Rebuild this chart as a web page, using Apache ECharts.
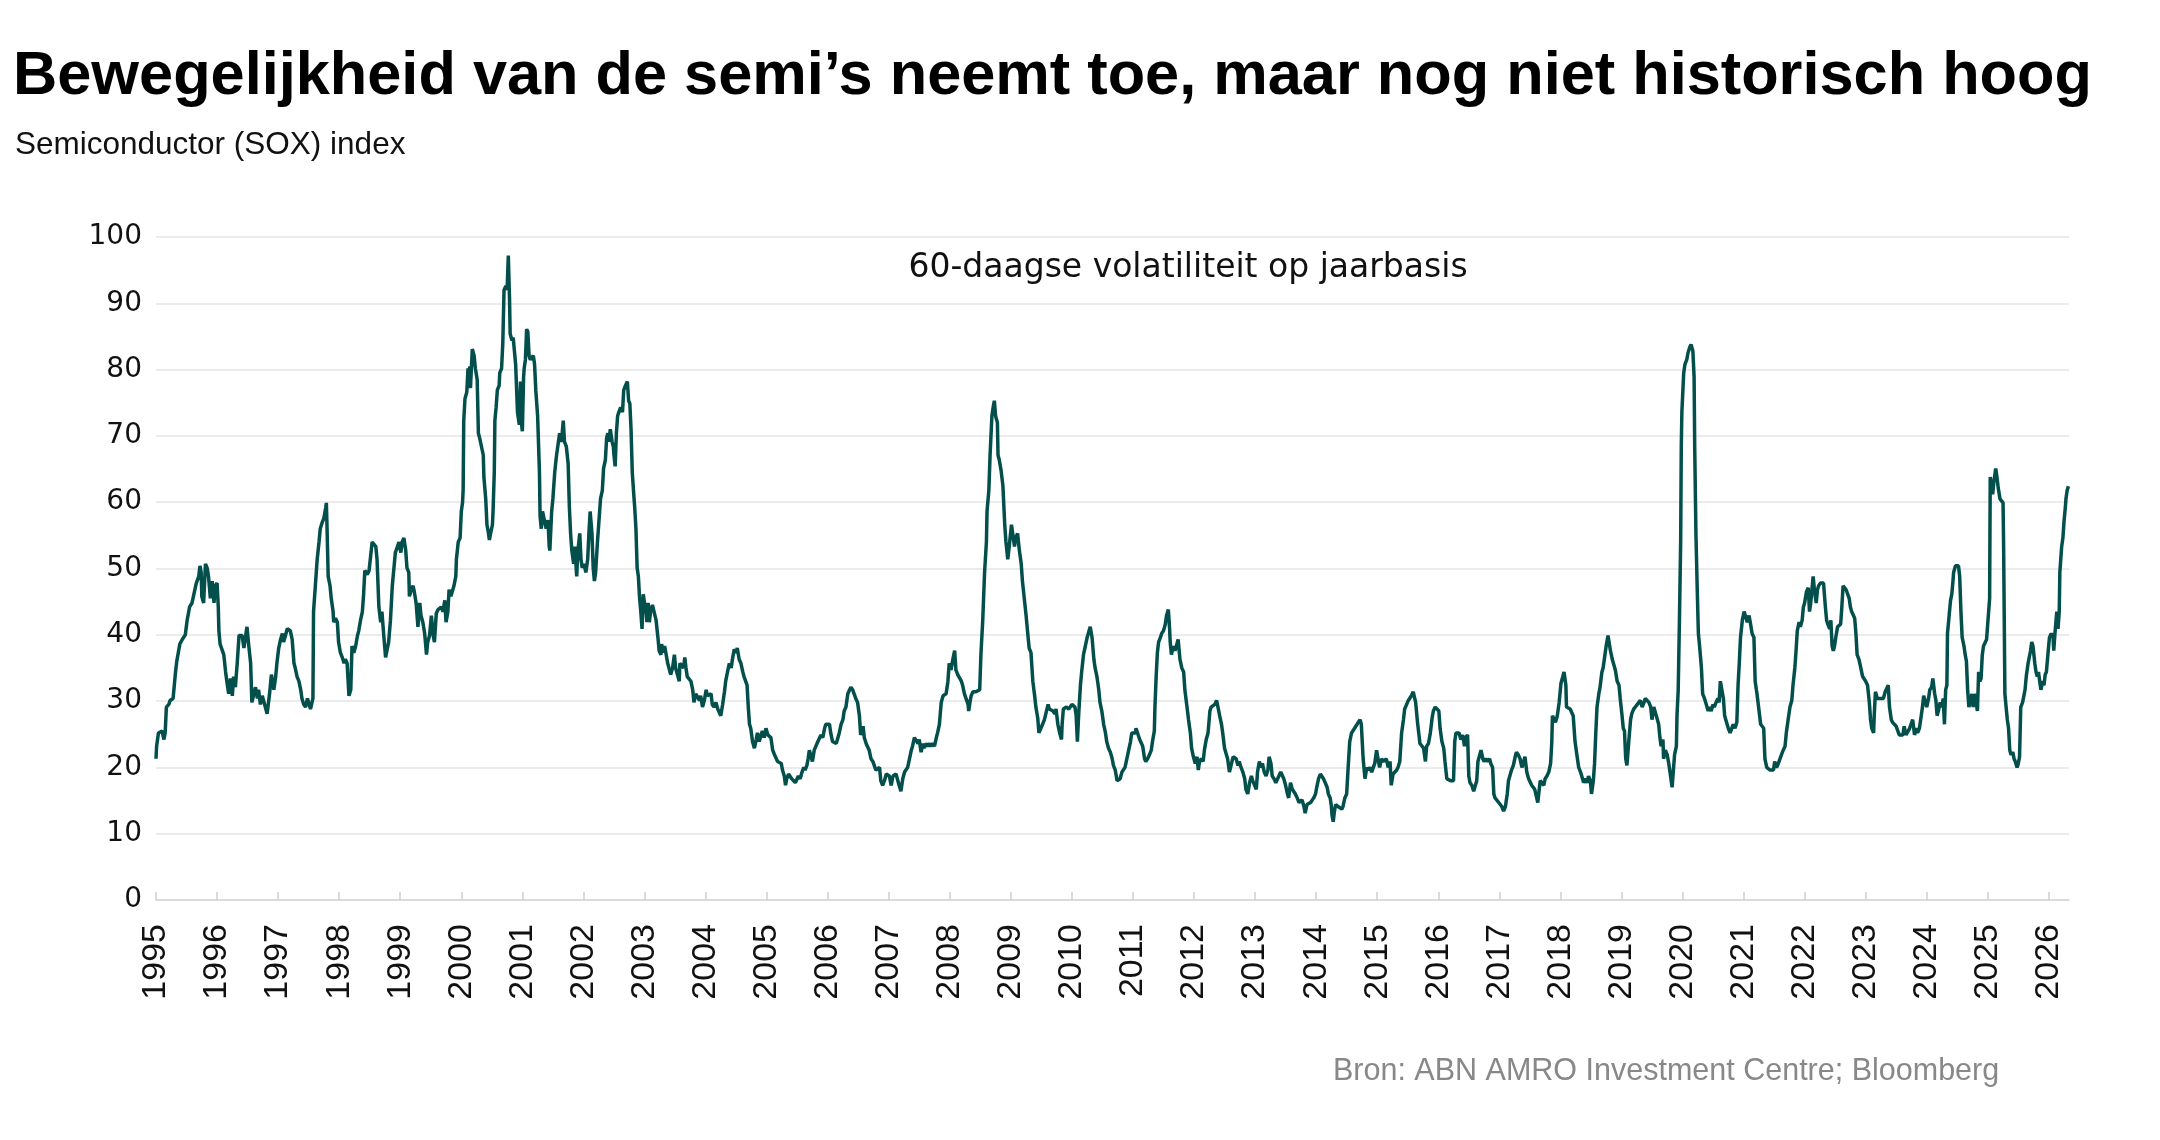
<!DOCTYPE html>
<html>
<head>
<meta charset="utf-8">
<script src="https://cdn.jsdelivr.net/npm/echarts@6/dist/echarts.min.js"></script>
<style>
html,body{margin:0;padding:0;background:#fff;}
#chart{width:2160px;height:1140px;}
</style>
</head>
<body>
<div id="chart"></div>
<script>
// Tick labels (years on the x axis)
const years = [1995,1996,1997,1998,1999,2000,2001,2002,2003,2004,2005,2006,2007,2008,2009,2010,2011,2012,2013,2014,2015,2016,2017,2018,2019,2020,2021,2022,2023,2024,2025,2026];

// 60-day annualised volatility, [decimal year, value]
const vol1995 = [[1995.00,21.3],[1995.01,23.2],[1995.04,25.2],[1995.10,25.5],[1995.13,24.2],[1995.15,25.2],[1995.17,29.1],[1995.21,29.5],[1995.23,30.1],[1995.28,30.4],[1995.30,32.4],[1995.32,34.4],[1995.34,36],[1995.37,36.3],[1995.39,38.6],[1995.43,39.3],[1995.45,39.6],[1995.48,40],[1995.51,42.2],[1995.55,44.2],[1995.59,44.8],[1995.62,46.1],[1995.66,47.8],[1995.70,48.8],[1995.72,50.4],[1995.74,49.4],[1995.75,45.8],[1995.78,44.8],[1995.81,50.7],[1995.84,50],[1995.86,48.8],[1995.89,45.5],[1995.92,48.1],[1995.95,44.8],[1995.97,47.4],[1996.00,47.8],[1996.02,44.2],[1996.03,40.6],[1996.05,38.6],[1996.08,38.3],[1996.11,37],[1996.14,34.4],[1996.16,33],[1996.19,31.1],[1996.22,33.4],[1996.25,30.8],[1996.27,33.7],[1996.30,32.1],[1996.33,35.7],[1996.36,39.9],[1996.38,39.6],[1996.41,39.9],[1996.44,38],[1996.46,39.3],[1996.49,41.2],[1996.52,38.3],[1996.55,35.7],[1996.57,29.8],[1996.60,29.5],[1996.63,32.1],[1996.66,30.4],[1996.68,31.7],[1996.71,29.5],[1996.74,30.8],[1996.77,29.8],[1996.79,29.1],[1996.82,28.1],[1996.85,27.8],[1996.86,31.1],[1996.89,34],[1996.93,31.7],[1996.96,33.7],[1996.98,35.7],[1997.01,38],[1997.04,39.3],[1997.07,40.2],[1997.09,38.9],[1997.12,39.9],[1997.15,40.9],[1997.17,41.2],[1997.20,40.6],[1997.23,39.3],[1997.26,35.7],[1997.28,35],[1997.31,33.7],[1997.34,33],[1997.37,31.7],[1997.39,30.4],[1997.42,29.5],[1997.45,29.1],[1997.48,30.4],[1997.50,29.8],[1997.53,28.8],[1997.56,28.5],[1997.57,30.4],[1997.58,43.5],[1997.61,47.4],[1997.64,51.4],[1997.67,54],[1997.69,56],[1997.72,56.9],[1997.75,57.6],[1997.78,59.2],[1997.79,59.9],[1997.80,56.6],[1997.82,48.8],[1997.85,47.4],[1997.87,45.5],[1997.90,43.5],[1997.91,41.9],[1997.94,42.5],[1997.97,41.9],[1997.99,38.9],[1998.02,37.3],[1998.05,36.6],[1998.08,35.7],[1998.10,36.3],[1998.13,35.7],[1998.16,30.8],[1998.19,31.7],[1998.21,38.3],[1998.24,37.3],[1998.27,38.3],[1998.30,39.9],[1998.32,40.6],[1998.35,42.2],[1998.38,43.5],[1998.40,46.1],[1998.42,49.7],[1998.46,49.1],[1998.49,49.7],[1998.51,49.4],[1998.54,54],[1998.57,54],[1998.60,53.3],[1998.62,51.4],[1998.65,44.2],[1998.68,41.9],[1998.70,43.5],[1998.73,39.9],[1998.76,36.6],[1998.79,36.3],[1998.81,38.9],[1998.84,42.2],[1998.87,47.4],[1998.90,50.4],[1998.92,52.4],[1998.95,52.7],[1998.98,54]];

const vol1999 = [[1999.01,52.4],[1999.03,54],[1999.06,54.6],[1999.09,52.7],[1999.11,50.1],[1999.14,49.4],[1999.15,45.8],[1999.18,46.8],[1999.21,47.4],[1999.23,46.5],[1999.26,44.8],[1999.29,41.2],[1999.32,44.8],[1999.34,42.9],[1999.37,41.9],[1999.40,40.2],[1999.43,37],[1999.45,38.9],[1999.48,39.9],[1999.51,42.9],[1999.54,39.9],[1999.56,38.9],[1999.59,43.2],[1999.62,43.8],[1999.64,43.5],[1999.67,44.2],[1999.70,43.5],[1999.73,45.2],[1999.75,41.9],[1999.78,43.5],[1999.80,46.8],[1999.83,45.8],[1999.85,46.1],[1999.88,47.4],[1999.91,48.8],[1999.92,51.4],[1999.95,54],[1999.98,54.6],[2000.00,58.6],[2000.02,59.9],[2000.03,61.8],[2000.04,72.3],[2000.06,75.6],[2000.09,76.6],[2000.11,80.2],[2000.13,78.9],[2000.14,80.5],[2000.15,77.2],[2000.18,83.1],[2000.21,82.1],[2000.23,80.2],[2000.26,78.5],[2000.28,70.4],[2000.30,69.7],[2000.33,68.4],[2000.36,67.1],[2000.37,63.8],[2000.40,60.5],[2000.42,56.6],[2000.44,55.6],[2000.46,54.3],[2000.48,55.3],[2000.51,56.6],[2000.52,58.6],[2000.54,64.5],[2000.55,72.3],[2000.57,74.3],[2000.59,76.9],[2000.62,77.6],[2000.63,79.5],[2000.66,80.2],[2000.68,84.1],[2000.70,92],[2000.73,92.6],[2000.75,92],[2000.77,97.2],[2000.79,90.6],[2000.80,85.4],[2000.83,84.4],[2000.85,84.8],[2000.87,82.8],[2000.89,80.8],[2000.91,80.8],[2000.92,73.6],[2000.95,71.7],[2000.97,78.2],[2000.98,72.3],[2001.00,70.7],[2001.02,78.9],[2001.03,80.2],[2001.05,81.5],[2001.07,86.1],[2001.09,85.7],[2001.11,82.1],[2001.13,81.5],[2001.15,81.5],[2001.18,82.1],[2001.20,80.8],[2001.22,76.9],[2001.25,73],[2001.28,64.5],[2001.29,57.9],[2001.31,56],[2001.33,58.6],[2001.36,57.3],[2001.39,56],[2001.42,57.3],[2001.44,53.3],[2001.45,52.7],[2001.48,58.6],[2001.50,60.5],[2001.53,64.5],[2001.56,67.1],[2001.58,68.4],[2001.61,70.4],[2001.64,69.1],[2001.67,72.3],[2001.69,69.1],[2001.72,68.4],[2001.75,65.8],[2001.77,59.2],[2001.79,55.3],[2001.81,52.7],[2001.84,50.7],[2001.86,53.3],[2001.89,48.8],[2001.91,52.7],[2001.94,55.3],[2001.96,51.4],[2001.98,50.1],[2002.01,50.7],[2002.04,49.4],[2002.07,51.4],[2002.09,55.3],[2002.11,58.6],[2002.14,55.3],[2002.16,50.1],[2002.18,48.1],[2002.20,49.4],[2002.23,54],[2002.26,57.9],[2002.28,60.5],[2002.31,61.8],[2002.33,65.1],[2002.36,66.4],[2002.38,69.7],[2002.40,70.4],[2002.42,69.1],[2002.44,71],[2002.47,69.1],[2002.49,68.4],[2002.50,67.1],[2002.52,65.4],[2002.54,70.4],[2002.56,73],[2002.58,73.6],[2002.61,74.3],[2002.64,73.6],[2002.66,76.9],[2002.69,77.6],[2002.72,78.2],[2002.74,75.3],[2002.76,74.9],[2002.78,71],[2002.80,64.5],[2002.82,61.8],[2002.84,59.2],[2002.86,56],[2002.88,50.1],[2002.90,48.8],[2002.92,45.5],[2002.94,43.5],[2002.96,40.9],[2002.98,46.1],[2003.00,44.8],[2003.02,44.2]];

const vol2003 = [[2003.04,41.9],[2003.06,44.8],[2003.08,41.9],[2003.10,43.5],[2003.13,44.5],[2003.16,44.2],[2003.19,42.2],[2003.22,39.6],[2003.24,37.6],[2003.27,37],[2003.28,38.6],[2003.31,37.3],[2003.33,38.3],[2003.35,37.3],[2003.38,35.7],[2003.40,35.7],[2003.43,34],[2003.46,35],[2003.49,37],[2003.51,35],[2003.54,34.7],[2003.57,33],[2003.58,35.7],[2003.61,36],[2003.64,35],[2003.66,36.6],[2003.68,35],[2003.70,33.7],[2003.73,34],[2003.76,33],[2003.79,31.7],[2003.81,29.8],[2003.84,31.1],[2003.87,30.8],[2003.90,30.1],[2003.92,30.8],[2003.95,29.1],[2003.98,30.1],[2004.01,31.7],[2004.03,30.8],[2004.06,30.8],[2004.09,31.1],[2004.11,29.5],[2004.14,29.1],[2004.17,29.8],[2004.20,28.8],[2004.22,28.5],[2004.25,27.8],[2004.28,29.5],[2004.31,31.4],[2004.33,33],[2004.36,34.4],[2004.39,35.7],[2004.42,35],[2004.44,36.3],[2004.47,37.8],[2004.50,37.3],[2004.52,38],[2004.55,36.3],[2004.58,35.7],[2004.61,34.4],[2004.63,33.7],[2004.66,34],[2004.68,32.4],[2004.70,29.1],[2004.72,26.5],[2004.74,25.9],[2004.77,23.9],[2004.80,22.9],[2004.83,24.2],[2004.85,25.2],[2004.88,23.9],[2004.91,24.9],[2004.93,25.5],[2004.96,24.5],[2004.99,25.9],[2005.02,24.9],[2005.04,25.2],[2005.07,24.5],[2005.10,22.6],[2005.13,21.9],[2005.15,21.6],[2005.18,20.9],[2005.21,20.6],[2005.24,20.6],[2005.26,19.6],[2005.29,18.7],[2005.31,17.3],[2005.33,18.3],[2005.36,19],[2005.39,18.7],[2005.41,18.3],[2005.44,18],[2005.47,17.7],[2005.50,18],[2005.52,18.7],[2005.55,18.3],[2005.58,19.3],[2005.61,20],[2005.63,19.6],[2005.66,20.3],[2005.68,21.3],[2005.70,22.6],[2005.73,21.6],[2005.75,20.9],[2005.78,22.6],[2005.81,22.9],[2005.84,23.9],[2005.86,23.6],[2005.89,24.9],[2005.92,24.5],[2005.95,25.9],[2005.97,26.5],[2006.00,26.2],[2006.03,26.5],[2006.05,25.2],[2006.08,23.9],[2006.11,24.2],[2006.14,23.6],[2006.16,24.2],[2006.19,25.2],[2006.22,26.5],[2006.25,27.2],[2006.27,28.5],[2006.30,29.1],[2006.33,31.1],[2006.36,31.7],[2006.38,32.1],[2006.41,31.7],[2006.44,31.4],[2006.46,30.4],[2006.49,29.8],[2006.52,27.8],[2006.54,24.9],[2006.56,25.2],[2006.58,26.2],[2006.60,24.5],[2006.63,23.6],[2006.66,23.9],[2006.68,22.6],[2006.71,21.3],[2006.74,20.9],[2006.77,20.6],[2006.79,19.6],[2006.82,19.3],[2006.85,20],[2006.87,18],[2006.90,17.3],[2006.93,18],[2006.96,19],[2006.98,19.3],[2007.01,18.7],[2007.04,17.3]];

const vol2007 = [[2007.07,18.7],[2007.09,18.7],[2007.12,19],[2007.15,19.3],[2007.17,17.3],[2007.20,16.4],[2007.23,18.3],[2007.26,19.3],[2007.28,19.6],[2007.31,20],[2007.34,21.3],[2007.37,22.6],[2007.39,23.2],[2007.42,24.5],[2007.45,24.2],[2007.48,23.6],[2007.50,24.2],[2007.53,22.3],[2007.56,23.6],[2007.58,22.9],[2007.61,23.6],[2007.64,23.2],[2007.67,23.6],[2007.69,23.2],[2007.72,23.6],[2007.75,23.2],[2007.78,24.5],[2007.80,25.2],[2007.83,26.5],[2007.86,29.8],[2007.89,30.8],[2007.91,31.1],[2007.94,31.1],[2007.97,33],[2007.99,35.7],[2008.02,34.7],[2008.05,36.3],[2008.08,37.6],[2008.10,34.7],[2008.13,34],[2008.16,33.7],[2008.19,33],[2008.21,32.4],[2008.24,31.1],[2008.27,30.8],[2008.30,29.5],[2008.31,28.5],[2008.33,29.8],[2008.35,30.8],[2008.38,31.4],[2008.40,31.7],[2008.43,31.4],[2008.46,31.1],[2008.49,31.7],[2008.51,37],[2008.54,42.2],[2008.57,49.4],[2008.60,54],[2008.61,58.6],[2008.64,61.8],[2008.66,67.1],[2008.69,73],[2008.71,74.3],[2008.73,75.3],[2008.75,73],[2008.78,72],[2008.79,67.1],[2008.81,66.4],[2008.84,64.8],[2008.87,62.5],[2008.90,56.6],[2008.92,54],[2008.95,51.4],[2008.97,53],[2009.01,56.6],[2009.03,55.3],[2009.06,53.3],[2009.08,54.6],[2009.11,55.3],[2009.14,52.7],[2009.17,50.7],[2009.19,48.1],[2009.22,45.5],[2009.25,42.9],[2009.28,39.9],[2009.30,38],[2009.33,37.3],[2009.36,33],[2009.39,30.8],[2009.41,29.1],[2009.44,27.5],[2009.46,25.2],[2009.49,25.5],[2009.52,26.5],[2009.55,27.2],[2009.58,27.5],[2009.61,29.5],[2009.63,28.8],[2009.66,29.1],[2009.69,28.5],[2009.72,28.1],[2009.74,28.8],[2009.77,26.5],[2009.80,25.2],[2009.83,24.2],[2009.84,26.5],[2009.86,28.8],[2009.89,28.5],[2009.91,29.1],[2009.95,28.8],[2009.97,29.1],[2010.00,29.5],[2010.03,29.8],[2010.05,29.1],[2010.07,27.8],[2010.09,23.9],[2010.11,27.8],[2010.14,32.4],[2010.16,34.4],[2010.19,37],[2010.22,38.3],[2010.25,39.6],[2010.28,39.9],[2010.30,41.2],[2010.33,39.6],[2010.36,36.3],[2010.38,35],[2010.41,33.7],[2010.44,31.7],[2010.46,29.8],[2010.49,28.5],[2010.52,26.5],[2010.55,25.2],[2010.57,23.9],[2010.60,22.9],[2010.63,22.3],[2010.66,21.3],[2010.68,20.3],[2010.71,19.6],[2010.74,18],[2010.77,17.7],[2010.79,18.3],[2010.82,19.3],[2010.85,19.6],[2010.87,20],[2010.90,21.3],[2010.93,22.6],[2010.96,23.9],[2010.98,25.2],[2011.01,25.5],[2011.04,25.2]];

const vol2011 = [[2011.05,25.9],[2011.08,26.2],[2011.11,24.2],[2011.13,24.2],[2011.16,23.2],[2011.19,21.3],[2011.21,20.9],[2011.24,21.3],[2011.27,21.9],[2011.30,22.6],[2011.32,23.9],[2011.35,25.5],[2011.36,29.1],[2011.38,33.7],[2011.40,37.3],[2011.42,38.9],[2011.45,39.6],[2011.47,40.2],[2011.50,40.6],[2011.53,41.6],[2011.55,42.9],[2011.58,43.8],[2011.60,40.9],[2011.61,38.9],[2011.63,37],[2011.66,38.3],[2011.69,37.6],[2011.72,37.3],[2011.74,39.3],[2011.77,36.3],[2011.80,35],[2011.83,34.4],[2011.85,31.7],[2011.88,29.5],[2011.91,27.2],[2011.94,25.2],[2011.96,22.9],[2011.99,21.6],[2012.02,20.6],[2012.05,21.6],[2012.07,19.6],[2012.09,20.9],[2012.12,21.3],[2012.15,20.9],[2012.17,22.6],[2012.20,24.2],[2012.23,25.2],[2012.26,28.5],[2012.28,29.1],[2012.31,28.8],[2012.34,29.5],[2012.37,30.1],[2012.39,29.8],[2012.42,27.8],[2012.45,26.5],[2012.47,25.2],[2012.50,22.9],[2012.53,22.6],[2012.55,21.3],[2012.58,19.3],[2012.61,19],[2012.64,21.6],[2012.66,21.9],[2012.69,21.3],[2012.72,20.3],[2012.74,20.9],[2012.77,20],[2012.80,19.3],[2012.83,18.3],[2012.85,16.7],[2012.88,16],[2012.91,17.7],[2012.94,18.7],[2012.96,18],[2012.99,18.3],[2013.02,16.7],[2013.04,19.3],[2013.07,20.9],[2013.10,20],[2013.12,20.6],[2013.15,19.3],[2013.18,18.7],[2013.21,19.6],[2013.23,21.6],[2013.26,20.6],[2013.28,18.7],[2013.31,18.3],[2013.34,17.7],[2013.37,18],[2013.39,18.7],[2013.42,19.3],[2013.45,19.6],[2013.47,18.3],[2013.50,17.3],[2013.53,16],[2013.55,15.4],[2013.58,17.7],[2013.61,16.7],[2013.64,17],[2013.66,16],[2013.69,15.4],[2013.72,14.7],[2013.74,14.4],[2013.77,15.1],[2013.80,14.1],[2013.82,13.1],[2013.85,14.4],[2013.88,14.4],[2013.91,14.7],[2013.93,14.7],[2013.96,15.4],[2013.99,16],[2014.01,17],[2014.04,18.3],[2014.07,19],[2014.10,18.7],[2014.12,18.3],[2014.15,18],[2014.18,17],[2014.20,16],[2014.23,15.4],[2014.25,14.1],[2014.26,12.8],[2014.28,11.8],[2014.30,13.4],[2014.32,14.4],[2014.36,14.1],[2014.39,14.1],[2014.42,13.7],[2014.44,14.1],[2014.47,15.4],[2014.50,16],[2014.52,19.3],[2014.55,23.9],[2014.58,25.2],[2014.61,25.5],[2014.63,25.9],[2014.66,26.2],[2014.69,26.8],[2014.72,27.2],[2014.74,26.5],[2014.77,21.3],[2014.80,18.3],[2014.83,20],[2014.85,19.6],[2014.88,20],[2014.91,19.3],[2014.93,19.6],[2014.96,20.6],[2014.99,22.6]];

const vol2015 = [[2015.02,20.9],[2015.04,20],[2015.07,21.3],[2015.10,20.9],[2015.13,20.6],[2015.15,21.3],[2015.18,20],[2015.21,20.9],[2015.23,17.3],[2015.26,19],[2015.29,19.3],[2015.32,19.6],[2015.34,20],[2015.37,20.9],[2015.40,25.2],[2015.43,27.2],[2015.45,28.8],[2015.48,29.1],[2015.51,30.1],[2015.54,30.4],[2015.56,30.8],[2015.59,31.4],[2015.62,31.1],[2015.63,29.8],[2015.66,26.8],[2015.68,25.2],[2015.70,23.6],[2015.73,23.9],[2015.76,22.9],[2015.79,20.9],[2015.81,23.2],[2015.84,23.6],[2015.87,25.2],[2015.90,27.5],[2015.92,28.5],[2015.95,29.1],[2015.98,28.8],[2016.01,28.5],[2016.03,25.9],[2016.06,23.9],[2016.09,22.9],[2016.11,20.9],[2016.14,18.3],[2016.17,18],[2016.20,18],[2016.22,17.7],[2016.25,18],[2016.27,23.9],[2016.29,25.2],[2016.32,24.9],[2016.34,25.2],[2016.37,24.2],[2016.40,24.9],[2016.43,23.2],[2016.45,24.5],[2016.48,24.9],[2016.50,18.7],[2016.52,17.7],[2016.55,17.3],[2016.58,16.4],[2016.61,16.7],[2016.63,18],[2016.65,20.9],[2016.67,20.6],[2016.70,22.6],[2016.73,21.3],[2016.75,20.9],[2016.78,21.3],[2016.81,20.9],[2016.84,21.3],[2016.86,20.6],[2016.89,20],[2016.91,16],[2016.93,15.4],[2016.96,15.1],[2016.99,14.7],[2017.02,14.4],[2017.04,14.1],[2017.07,13.4],[2017.10,14.1],[2017.13,16],[2017.15,18],[2017.17,18.3],[2017.20,19.6],[2017.23,20.3],[2017.26,21.6],[2017.28,22.3],[2017.31,21.9],[2017.34,21.3],[2017.37,20],[2017.39,20.6],[2017.42,21.6],[2017.45,19.3],[2017.48,18.3],[2017.50,18],[2017.53,17.3],[2017.56,17],[2017.58,16.7],[2017.61,16.4],[2017.63,14.7],[2017.66,14.4],[2017.67,18],[2017.70,17.7],[2017.73,17.3],[2017.75,18.3],[2017.78,18.7],[2017.81,19.3],[2017.84,20.6],[2017.86,23.9],[2017.87,27.8],[2017.90,27.2],[2017.92,26.8],[2017.95,27.8],[2017.98,29.8],[2018.01,32.7],[2018.04,33.7],[2018.06,34.4],[2018.09,32.4],[2018.10,29.1],[2018.13,29.1],[2018.16,28.8],[2018.19,28.5],[2018.21,27.8],[2018.24,23.9],[2018.27,21.9],[2018.30,20],[2018.33,19.3],[2018.35,18.7],[2018.38,17.7],[2018.41,18.3],[2018.44,17.7],[2018.46,18.7],[2018.49,18],[2018.51,16],[2018.54,18],[2018.56,20.6],[2018.58,25.2],[2018.60,29.1],[2018.63,31.1],[2018.65,32.1],[2018.68,34.4],[2018.70,35],[2018.73,37],[2018.75,38.3],[2018.78,39.9],[2018.80,39.6],[2018.82,37.6],[2018.85,36.3],[2018.87,36.3],[2018.90,34.7],[2018.93,33],[2018.96,32.4],[2018.98,30.4],[2019.01,27.8],[2019.03,25.9],[2019.05,25.5]];

const vol2019 = [[2019.07,21.3],[2019.09,20.3],[2019.12,23.9],[2019.15,27.2],[2019.17,28.1],[2019.20,28.8],[2019.23,29.1],[2019.26,29.5],[2019.28,29.8],[2019.31,30.1],[2019.34,29.1],[2019.37,29.8],[2019.39,30.4],[2019.42,30.1],[2019.45,29.8],[2019.48,29.1],[2019.50,27.2],[2019.53,29.1],[2019.56,29.1],[2019.58,27.5],[2019.61,26.5],[2019.63,24.5],[2019.65,23.2],[2019.68,24.2],[2019.69,21.3],[2019.72,22.6],[2019.75,21.9],[2019.78,20.3],[2019.80,19],[2019.83,17],[2019.85,16.7],[2019.87,21.9],[2019.90,23.2],[2019.91,27.8],[2019.93,31.7],[2019.95,42.2],[2019.97,54],[2019.98,68.4],[2019.99,73.6],[2020.02,79.5],[2020.04,80.8],[2020.07,81.5],[2020.09,82.5],[2020.12,83.4],[2020.14,83.8],[2020.17,82.8],[2020.19,78.9],[2020.20,68.4],[2020.22,55.3],[2020.24,47.4],[2020.26,40.2],[2020.28,38.3],[2020.31,35],[2020.33,31.1],[2020.36,30.4],[2020.39,29.5],[2020.42,28.5],[2020.44,29.1],[2020.47,28.5],[2020.50,29.5],[2020.52,29.1],[2020.55,29.8],[2020.58,30.4],[2020.60,29.8],[2020.62,33],[2020.64,33],[2020.67,30.4],[2020.69,27.8],[2020.72,27.8],[2020.75,25.9],[2020.78,25.2],[2020.80,25.5],[2020.83,26.5],[2020.86,25.9],[2020.89,26.8],[2020.91,32.4],[2020.93,35.7],[2020.95,39.6],[2020.98,42.2],[2021.01,43.5],[2021.03,43.2],[2021.06,41.9],[2021.09,42.9],[2021.11,41.9],[2021.14,40.2],[2021.17,39.6],[2021.19,33],[2021.21,31.7],[2021.22,31.1],[2021.25,28.8],[2021.28,26.5],[2021.31,26.5],[2021.33,25.9],[2021.35,21.3],[2021.38,20],[2021.40,20.3],[2021.43,19.6],[2021.46,19.3],[2021.49,19.6],[2021.51,20.9],[2021.54,20],[2021.57,20.6],[2021.60,20.9],[2021.62,21.9],[2021.65,22.6],[2021.68,23.2],[2021.70,25.2],[2021.73,27.2],[2021.76,29.1],[2021.79,30.1],[2021.81,32.4],[2021.84,35],[2021.86,37.6],[2021.88,40.6],[2021.91,41.9],[2021.93,41.2],[2021.96,42.2],[2021.98,44.2],[2022.00,44.8],[2022.03,46.5],[2022.06,47.1],[2022.08,43.5],[2022.10,44.8],[2022.12,46.8],[2022.14,48.8],[2022.16,46.8],[2022.19,44.8],[2022.21,46.8],[2022.23,47.4],[2022.26,47.8],[2022.29,47.8],[2022.31,47.8],[2022.34,44.2],[2022.36,42.2],[2022.38,41.6],[2022.41,40.9],[2022.43,42.2],[2022.45,38.3],[2022.47,37.6],[2022.49,38.3],[2022.51,39.6],[2022.54,41.2],[2022.56,41.2],[2022.59,41.6],[2022.61,44.2],[2022.63,47.4],[2022.66,47.1],[2022.68,46.8],[2022.71,46.5],[2022.73,45.5],[2022.75,44.2],[2022.77,43.5],[2022.80,42.9],[2022.82,42.5],[2022.84,40.2],[2022.86,37],[2022.89,36.3],[2022.92,35],[2022.95,33.7],[2022.97,33.7],[2023.00,33],[2023.03,32.4]];

const vol2023 = [[2023.06,29.8],[2023.08,27.2],[2023.10,25.9],[2023.13,25.2],[2023.14,27.8],[2023.16,31.4],[2023.19,30.4],[2023.21,30.1],[2023.23,30.4],[2023.26,30.1],[2023.29,30.4],[2023.32,31.4],[2023.34,31.7],[2023.37,32.4],[2023.39,29.1],[2023.42,27.2],[2023.44,26.8],[2023.47,26.5],[2023.50,26.2],[2023.52,25.9],[2023.55,24.9],[2023.58,25.2],[2023.61,24.9],[2023.63,26.2],[2023.66,24.9],[2023.69,25.2],[2023.72,25.9],[2023.74,26.2],[2023.77,27.2],[2023.80,24.9],[2023.83,25.9],[2023.85,25.2],[2023.88,25.9],[2023.91,27.8],[2023.93,29.1],[2023.95,30.8],[2023.97,31.1],[2024.00,29.1],[2024.03,30.4],[2024.05,31.7],[2024.08,32.1],[2024.10,33.4],[2024.13,31.1],[2024.15,30.1],[2024.17,27.8],[2024.19,28.5],[2024.22,29.8],[2024.25,29.1],[2024.27,30.4],[2024.29,26.5],[2024.31,31.7],[2024.33,32.4],[2024.34,40.2],[2024.37,43.2],[2024.39,45.2],[2024.41,46.1],[2024.43,48.1],[2024.44,49.4],[2024.47,50.4],[2024.49,50.7],[2024.52,50.4],[2024.54,48.8],[2024.55,46.1],[2024.56,43.5],[2024.58,39.6],[2024.61,38.3],[2024.63,37],[2024.65,36],[2024.67,31.7],[2024.69,29.1],[2024.71,29.8],[2024.74,31.1],[2024.76,29.1],[2024.78,31.1],[2024.81,29.8],[2024.83,28.5],[2024.85,34.4],[2024.87,33],[2024.89,33.4],[2024.91,37],[2024.93,38.3],[2024.96,38.6],[2024.98,39.3],[2025.01,39.3],[2025.03,45.5],[2025.04,63.8],[2025.07,63.5],[2025.08,61.2],[2025.10,63.1],[2025.13,65.1],[2025.15,63.8],[2025.17,62.2],[2025.20,60.5],[2025.22,60.2],[2025.25,59.9],[2025.26,52.7],[2025.28,31.1],[2025.30,29.1],[2025.32,27.2],[2025.34,25.9],[2025.36,22.6],[2025.38,21.9],[2025.41,22.3],[2025.43,21.3],[2025.45,20.9],[2025.48,20],[2025.50,20.6],[2025.52,21.6],[2025.54,29.1],[2025.57,29.8],[2025.59,30.1],[2025.61,31.7],[2025.63,33.7],[2025.66,35.7],[2025.68,36],[2025.70,37.6],[2025.72,38.9],[2025.74,38.3],[2025.77,35.7],[2025.79,34.4],[2025.81,33.7],[2025.83,34.4],[2025.85,33],[2025.87,31.7],[2025.90,33],[2025.92,32.4],[2025.94,34],[2025.96,34.4],[2025.99,37.6],[2026.01,39.6],[2026.04,40.2],[2026.07,39.6],[2026.08,37.6],[2026.10,40.2],[2026.13,43.5],[2026.15,40.9],[2026.17,43.5],[2026.18,49.4],[2026.21,53.3],[2026.23,54.6],[2026.25,57.3],[2026.27,59.2],[2026.28,60.5],[2026.30,61.8],[2026.32,62.4]];

const titleText = 'Bewegelijkheid van de semi\u2019s neemt toe, maar nog niet historisch hoog';
const subtitleText = 'Semiconductor (SOX) index';
const seriesLabel = '60-daagse volatiliteit op jaarbasis';
const sourceText = 'Bron: ABN AMRO Investment Centre; Bloomberg';

const volData = [].concat(vol1995, vol1999, vol2003, vol2007, vol2011, vol2015, vol2019, vol2023);

const chart = echarts.init(document.getElementById('chart'), null, {renderer: 'canvas', width: 2160, height: 1140});
chart.setOption({
  animation: false,
  backgroundColor: '#ffffff',
  grid: {left: 156, right: 91, top: 237, bottom: 240, containLabel: false},
  xAxis: {
    type: 'value',
    min: 1995,
    max: 2026.33,
    interval: 1,
    splitLine: {show: false},
    axisLine: {show: true, onZero: false, lineStyle: {color: '#d6d6d6', width: 1.5}},
    axisTick: {show: true, inside: true, length: 8, customValues: years, lineStyle: {color: '#d0d0d0', width: 1.5}},
    axisLabel: {
      customValues: years,
      rotate: 90,
      margin: 24,
      fontSize: 34,
      fontFamily: '"Liberation Sans", Arial, sans-serif',
      color: '#111111',
      formatter: function (v) { return String(Math.round(v)); }
    }
  },
  yAxis: {
    type: 'value',
    min: 0,
    max: 100,
    interval: 10,
    axisLine: {show: false},
    axisTick: {show: false},
    splitLine: {show: true, lineStyle: {color: '#e4e4e4', width: 1.5}},
    axisLabel: {
      margin: 14,
      fontSize: 28,
      fontFamily: '"DejaVu Sans", sans-serif',
      color: '#111111'
    }
  },
  series: [{
    name: seriesLabel,
    type: 'line',
    data: volData,
    showSymbol: false,
    symbol: 'none',
    smooth: false,
    lineStyle: {color: '#024f4c', width: 3.5},
    itemStyle: {color: '#024f4c'},
    z: 3
  }],
  graphic: [
    {type: 'text', x: 13, y: 77, style: {text: titleText, font: 'bold 61.3px "Liberation Sans", Arial, sans-serif', fill: '#000000', textAlign: 'left', textVerticalAlign: 'middle'}},
    {type: 'text', x: 15, y: 145, style: {text: subtitleText, font: '31.5px "Liberation Sans", Arial, sans-serif', fill: '#111111', textAlign: 'left', textVerticalAlign: 'middle'}},
    {type: 'text', x: 1188, y: 268, style: {text: seriesLabel, font: '33px "DejaVu Sans", sans-serif', fill: '#111111', textAlign: 'center', textVerticalAlign: 'middle'}},
    {type: 'text', x: 1333, y: 1072, style: {text: sourceText, font: '30.5px "Liberation Sans", Arial, sans-serif', fill: '#888888', textAlign: 'left', textVerticalAlign: 'middle'}}
  ]
});
</script>
</body>
</html>
